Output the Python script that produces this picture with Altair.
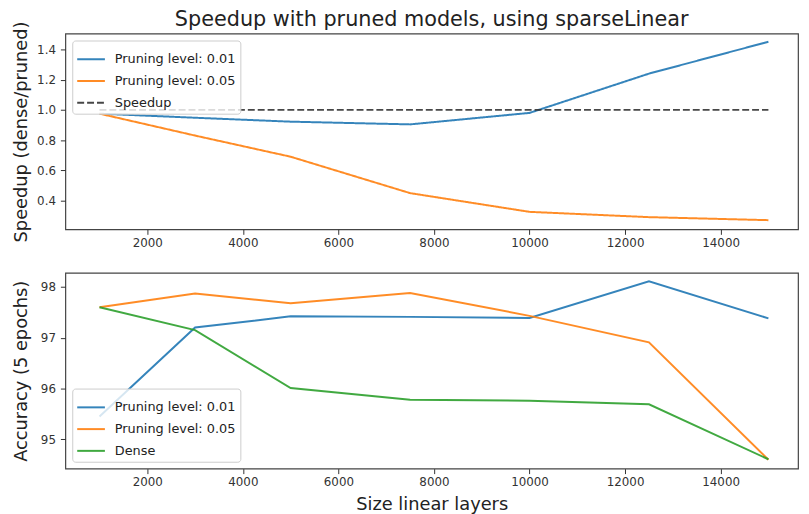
import altair as alt
import pandas as pd

# ---- data ----
sizes = [1000, 3000, 5000, 7500, 10000, 12500, 15000]

speedup_001 = [0.975, 0.948, 0.922, 0.904, 0.98, 1.24, 1.451]
speedup_005 = [0.975, 0.83, 0.69, 0.449, 0.325, 0.29, 0.27]
speedup_ref = [1.0, 1.0, 1.0, 1.0, 1.0, 1.0, 1.0]

acc_001 = [95.45, 97.2, 97.42, 97.41, 97.39, 98.11, 97.38]
acc_005 = [97.6, 97.87, 97.68, 97.88, 97.43, 96.91, 94.6]
acc_dense = [97.6, 97.15, 96.01, 95.78, 95.76, 95.69, 94.61]

top_names = ["Pruning level: 0.01", "Pruning level: 0.05", "Speedup"]
bot_names = ["Pruning level: 0.01", "Pruning level: 0.05", "Dense"]

x_ticks = [2000, 4000, 6000, 8000, 10000, 12000, 14000]
top_ticks = [0.4, 0.6, 0.8, 1.0, 1.2, 1.4]
bot_ticks = [95, 96, 97, 98]

BLUE, ORANGE, GREEN, DARK = "#1f77b4", "#ff7f0e", "#2ca02c", "#333333"
FONT = "DejaVu Sans"


def long_df(names, series):
    rows = []
    for i, (name, vals) in enumerate(zip(names, series)):
        for s, v in zip(sizes, vals):
            rows.append({"size": s, "value": v, "series": name, "order": i})
    return pd.DataFrame(rows)


top_df = long_df(top_names, [speedup_001, speedup_005, speedup_ref])
bot_df = long_df(bot_names, [acc_001, acc_005, acc_dense])

x_scale = alt.Scale(domain=[285, 15620], nice=False, zero=False)

legend_common = dict(
    title=None,
    symbolType="stroke",
    symbolStrokeWidth=2,
    symbolSize=784,
    labelFontSize=13,
    labelFont=FONT,
    labelColor="#222",
    fillColor="rgba(255,255,255,0.8)",
    strokeColor="#cccccc",
    cornerRadius=3,
    padding=4,
    offset=7,
    rowPadding=-2,
    labelOffset=9,
)


def axis_x(title=None):
    kw = dict(
        values=x_ticks,
        format="d",
        grid=False,
        domain=False,
        tickSize=5,
        tickColor=DARK,
        labelPadding=3,
        labelFontSize=12,
        labelFont=FONT,
        labelColor="#333",
        labelFlush=False,
    )
    if title is not None:
        kw.update(title=title, titleFontSize=18, titleFont=FONT,
                  titleFontWeight="normal", titleColor="#222", titlePadding=8)
    else:
        kw.update(title=None)
    return alt.Axis(**kw)


def axis_y(title, values, fmt):
    return alt.Axis(
        title=title,
        values=values,
        format=fmt,
        grid=False,
        domain=False,
        tickSize=5,
        tickColor=DARK,
        labelPadding=5,
        labelFontSize=12,
        labelFont=FONT,
        labelColor="#333",
        titleFontSize=18,
        titleFont=FONT,
        titleFontWeight="normal",
        titleColor="#222",
        titlePadding=3,
        minExtent=32,
        maxExtent=32,
    )


top = alt.Chart(top_df).mark_line(strokeWidth=2, opacity=0.9).encode(
    x=alt.X("size:Q", scale=x_scale, axis=axis_x()),
    y=alt.Y("value:Q", scale=alt.Scale(domain=[0.209, 1.505], nice=False, zero=False),
            axis=axis_y("Speedup (dense/pruned)", top_ticks, ".1f")),
    color=alt.Color("series:N",
                    scale=alt.Scale(domain=top_names, range=[BLUE, ORANGE, DARK]),
                    legend=alt.Legend(orient="top-left", **legend_common)),
    strokeDash=alt.StrokeDash("series:N",
                              scale=alt.Scale(domain=top_names, range=[[1, 0], [1, 0], [7, 3]]),
                              legend=alt.Legend(orient="top-left", **legend_common)),
    order=alt.Order("order:Q"),
).properties(
    width=741,
    height=198,
    title=alt.TitleParams(
        "Speedup with pruned models, using sparseLinear",
        fontSize=21, font=FONT, fontWeight="normal", color="#222",
        anchor="middle", frame="group", offset=-9,
    ),
)

bottom = alt.Chart(bot_df).mark_line(strokeWidth=2, opacity=0.9).encode(
    x=alt.X("size:Q", scale=x_scale, axis=axis_x("Size linear layers")),
    y=alt.Y("value:Q", scale=alt.Scale(domain=[94.425, 98.275], nice=False, zero=False),
            axis=axis_y("Accuracy (5 epochs)", bot_ticks, "d")),
    color=alt.Color("series:N",
                    scale=alt.Scale(domain=bot_names, range=[BLUE, ORANGE, GREEN]),
                    legend=alt.Legend(orient="bottom-left", **legend_common)),
    order=alt.Order("order:Q"),
).properties(width=741, height=198)

chart = alt.vconcat(top, bottom, spacing=23).resolve_scale(
    color="independent", strokeDash="independent"
).resolve_legend(
    color="independent", strokeDash="independent"
).configure_view(
    stroke="#444444", strokeWidth=1.2
).properties(
    padding={"left": 4, "top": -3, "right": 2, "bottom": 0}
)

chart.save("out.html", embed_options={"renderer": "svg", "actions": False})
